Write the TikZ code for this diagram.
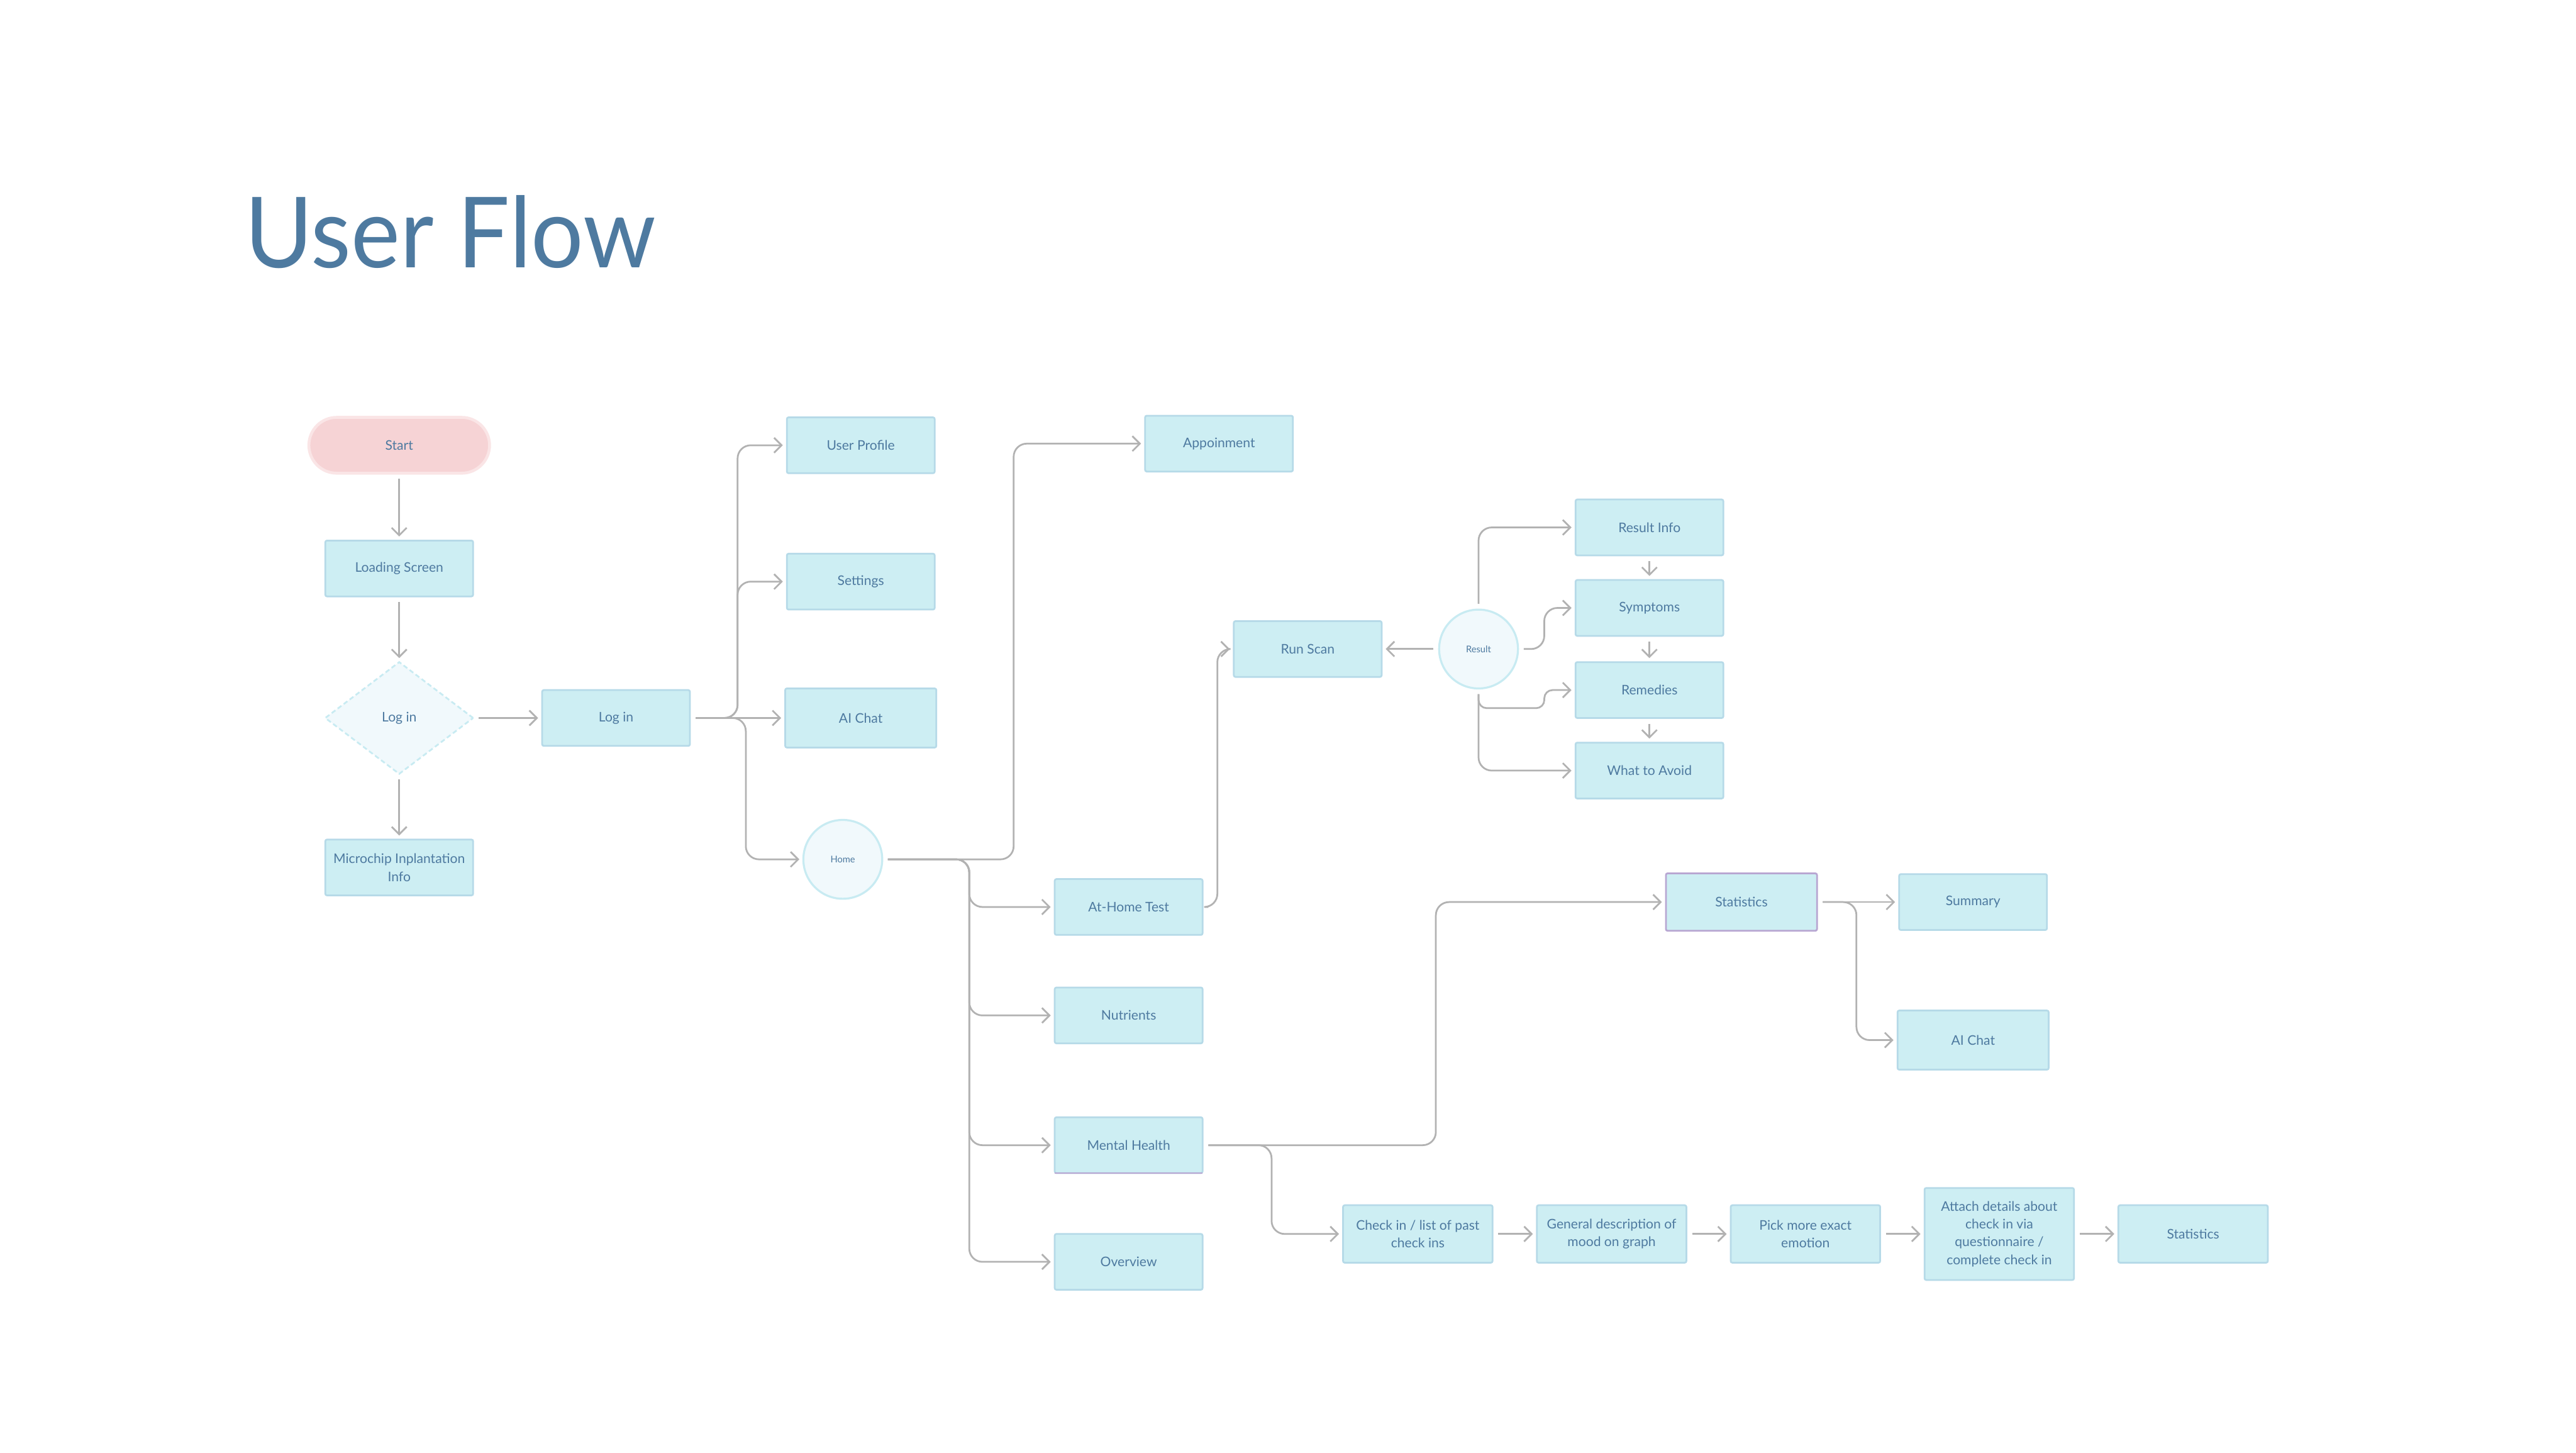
\documentclass[tikz,border=0pt]{standalone}
\usepackage{fontspec}
\setmainfont{Lato}
\usetikzlibrary{shapes.geometric, arrows.meta, positioning, calc}

\definecolor{ink}{RGB}{78,122,160}
\definecolor{boxfill}{RGB}{205,238,243}
\definecolor{boxedge}{RGB}{182,218,232}
\definecolor{pinkfill}{RGB}{246,211,213}
\definecolor{pinkedge}{RGB}{250,229,230}
\definecolor{palefill}{RGB}{241,249,252}
\definecolor{paleedge}{RGB}{200,235,242}
\definecolor{linegray}{RGB}{178,178,178}
\definecolor{statedge}{RGB}{184,166,210}

\begin{document}
\begin{tikzpicture}[
        x=0.02cm, y=-0.02cm,
        font=\fontsize{4.6}{6.2}\selectfont,
        text=ink,
        screen/.style={rectangle, draw=boxedge, line width=0.6pt, fill=boxfill, rounded corners=0.6pt, minimum width=1.8cm, minimum height=0.68cm, align=center, inner sep=1pt, outer sep=0pt},
        stagebox/.style={screen, minimum width=1.82cm, minimum height=0.7cm},
        terminal/.style={rectangle, draw=pinkedge, line width=1pt, fill=pinkfill, rounded corners=0.34cm, minimum width=2.2cm, minimum height=0.68cm, outer sep=0pt},
        choice/.style={diamond, draw=paleedge, dash pattern=on 1.6pt off 1pt, line width=0.6pt, fill=palefill, minimum width=1.8cm, minimum height=1.36cm, inner sep=0pt, outer sep=0pt},
        hub/.style={circle, draw=paleedge, line width=0.7pt, fill=palefill, minimum size=0.96cm, inner sep=0pt, outer sep=0pt, font=\fontsize{3.2}{4}\selectfont},
        line/.style={draw=linegray, line width=0.6pt, rounded corners=0.16cm, shorten <=2pt, shorten >=1.4pt, -{Straight Barb[length=2.6pt, width=5.2pt]}}
    ]
        \fill[white] (0,0) rectangle (1568,884);
        \useasboundingbox (0,0) rectangle (1568,884);

        \node[anchor=base west, font=\fontsize{34}{40}\selectfont] (title) at (143,163) {\scalebox{0.945}[1]{User Flow}};

        % Entry column
        \node[terminal] (start) at (243,271) {Start};
        \node[screen, below=0.82cm of start] (loading) {Loading Screen};
        \node[choice, below=0.8cm of loading] (gate) {Log in};
        \node[screen, below=0.8cm of gate] (chip) {Microchip Inplantation\\Info};
        \node[screen, right=0.84cm of gate] (login) {Log in};

        % Account screens
        \node[screen, minimum width=1.84cm, minimum height=0.72cm, right=1.16cm of login] (aichat) {AI Chat};
        \node[screen, above=0.96cm of aichat] (settings) {Settings};
        \node[screen, above=0.98cm of settings] (profile) {User Profile};
        \node[hub] (home) at (513,523) {Home};

        % Home destinations
        \node[screen] (appt) at (742,270) {Appoinment};
        \node[screen] (athome) at (687,552) {At-Home Test};
        \node[screen, below=0.64cm of athome] (nutrients) {Nutrients};
        \node[screen, below=0.9cm of nutrients] (mental) {Mental Health};
        \node[screen, below=0.74cm of mental] (overview) {Overview};
        \draw[statedge, line width=0.6pt] (mental.south west) -- (mental.south east);

        % Scan results
        \node[screen] (scan) at (796,395) {Run Scan};
        \node[hub, right=0.7cm of scan] (result) {Result};
        \node[screen] (resinfo) at (1004,321) {Result Info};
        \node[screen, below=0.3cm of resinfo] (symptoms) {Symptoms};
        \node[screen, below=0.32cm of symptoms] (remedies) {Remedies};
        \node[screen, below=0.3cm of remedies] (avoid) {What to Avoid};

        % Mental health screens
        \node[screen, draw=statedge, minimum width=1.84cm, minimum height=0.7cm] (stats) at (1060,549) {Statistics};
        \node[screen, right=1cm of stats] (summary) {Summary};
        \node[screen, minimum width=1.84cm, minimum height=0.72cm] (aichat2) at (1201,633) {AI Chat};
        \node[stagebox] (checkin) at (863,751) {Check in / list of past\\check ins};
        \node[stagebox, right=0.54cm of checkin] (mood) {General description of\\mood on graph};
        \node[stagebox, right=0.54cm of mood] (emotion) {Pick more exact\\emotion};
        \node[stagebox, minimum height=1.12cm, right=0.54cm of emotion] (attach) {Attach details about\\check in via\\questionnaire /\\complete check in};
        \node[stagebox, right=0.54cm of attach] (stats2) {Statistics};

        % Entry flow
        \draw[line] (start) -- (loading);
        \draw[line] (loading) -- (gate);
        \draw[line] (gate) -- (chip);
        \draw[line] (gate) -- (login);

        % Account branches
        \draw[line] (login.east) -- ++(29,0) |- (profile.west);
        \draw[line] (login.east) -- ++(29,0) |- (settings.west);
        \draw[line] (login) -- (aichat);
        \draw[line] (login.east) -- ++(34,0) |- (home.west);

        % Home branches
        \draw[line] (home.east) -- ++(80,0) |- (appt.west);
        \draw[line] (home.east) -- ++(53,0) |- (athome.west);
        \draw[line] (home.east) -- ++(53,0) |- (nutrients.west);
        \draw[line] (home.east) -- ++(53,0) |- (mental.west);
        \draw[line] (home.east) -- ++(53,0) |- (overview.west);
        \draw[line] (athome.east) -- ++(9,0) |- (scan.west);

        % Result branches
        \draw[line] (result) -- (scan);
        \draw[line] (result.north) |- (resinfo.west);
        \draw[line] (result.east) -- ++(16,0) |- (symptoms.west);
        \draw[line, rounded corners=0.1cm] (result.south) -- ++(0,12) -| ($(remedies.west)+(-19,0)$) -- (remedies.west);
        \draw[line] (result.south) |- (avoid.west);
        \draw[line] (resinfo) -- (symptoms);
        \draw[line] (symptoms) -- (remedies);
        \draw[line] (remedies) -- (avoid);

        % Mental health branches
        \draw[line] (mental.east) -- ++(142,0) |- (stats.west);
        \draw[line] (mental.east) -- ++(42,0) |- (checkin.west);
        \draw[line] (stats) -- (summary);
        \draw[line] (stats.east) -- ++(24,0) |- (aichat2.west);
        \draw[line] (checkin) -- (mood);
        \draw[line] (mood) -- (emotion);
        \draw[line] (emotion) -- (attach);
        \draw[line] (attach) -- (stats2);
    \end{tikzpicture}
\end{document}
